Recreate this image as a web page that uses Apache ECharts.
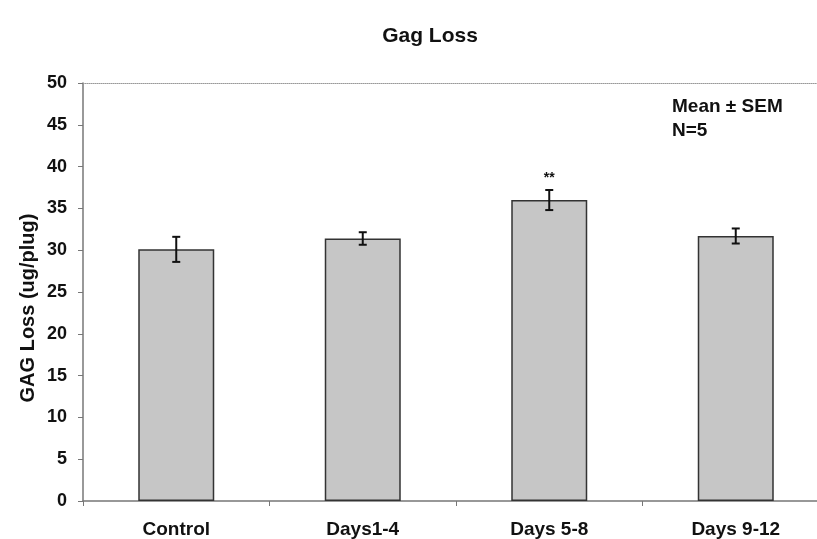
<!DOCTYPE html>
<html>
<head>
<meta charset="utf-8">
<script src="https://cdn.jsdelivr.net/npm/echarts@6/dist/echarts.min.js"></script>
<style>html,body{margin:0;padding:0;background:#fff}#c{width:817px;height:539px}</style>
</head>
<body>
<div id="c"></div>
<script>
const categories = ['Control', 'Days1-4', 'Days 5-8', 'Days 9-12'];
const meanValues = [30.1, 31.4, 36.0, 31.7];
const semValues = [1.5, 0.75, 1.2, 0.9];
const significance = ['', '', '**', ''];
const yTicks = [0, 5, 10, 15, 20, 25, 30, 35, 40, 45, 50];

const FONT = '"Liberation Sans", Arial, sans-serif';
const chart = echarts.init(document.getElementById('c'));

const errData = meanValues.map((v, i) => [i, v - semValues[i], v + semValues[i]]);

chart.setOption({
  animation: false,
  title: {
    text: 'Gag Loss', left: 425, top: 21, textAlign: 'center',
    textStyle: { fontFamily: FONT, fontSize: 21, fontWeight: 'bold', color: '#111' }
  },
  graphic: [
    { type: 'text', left: 672, top: 97, style: { text: 'Mean ± SEM', font: 'bold 19px ' + FONT, fill: '#111' } },
    { type: 'text', left: 672, top: 121, style: { text: 'N=5', font: 'bold 19px ' + FONT, fill: '#111' } },
    { type: 'text', x: 28, y: 308, rotation: Math.PI / 2,
      style: { text: 'GAG Loss (ug/plug)', font: 'bold 20px ' + FONT, fill: '#111', align: 'center', verticalAlign: 'middle' } }
  ],
  grid: { left: 83, width: 746, top: 83, bottom: 38, outerBoundsMode: 'none' },
  xAxis: [{
    type: 'category', data: categories, position: 'bottom',
    axisLine: { lineStyle: { color: '#777', width: 1.5 } },
    axisTick: { show: true, length: 5, lineStyle: { color: '#777' } },
    axisLabel: { fontFamily: FONT, fontSize: 19, fontWeight: 'bold', color: '#111', margin: 19 }
  }, {
    type: 'category', data: categories, position: 'top',
    axisLine: { lineStyle: { color: '#999', type: 'dotted', width: 1 } },
    axisTick: { show: false }, axisLabel: { show: false }
  }],
  yAxis: {
    type: 'value', min: 0, max: 50, interval: 5,
    axisLine: { show: true, lineStyle: { color: '#777', width: 1.5 } },
    axisTick: { show: true, length: 5, lineStyle: { color: '#777' } },
    splitLine: { show: false },
    axisLabel: { fontFamily: FONT, fontSize: 18, fontWeight: 'bold', color: '#111', margin: 16,
      formatter: v => yTicks.includes(v) ? String(v) : '' }
  },
  series: [{
    type: 'bar', data: meanValues, barWidth: 76,
    itemStyle: { color: '#c6c6c6', borderColor: '#333', borderWidth: 1.5 }
  }, {
    type: 'custom', data: errData, z: 5,
    renderItem: function (params, api) {
      const x = api.coord([api.value(0), 0])[0];
      const lo = api.coord([api.value(0), api.value(1)])[1];
      const hi = api.coord([api.value(0), api.value(2)])[1];
      const hw = 4;
      const st = { stroke: '#111', lineWidth: 2 };
      const children = [
        { type: 'line', shape: { x1: x, y1: lo, x2: x, y2: hi }, style: st },
        { type: 'line', shape: { x1: x - hw, y1: lo, x2: x + hw, y2: lo }, style: st },
        { type: 'line', shape: { x1: x - hw, y1: hi, x2: x + hw, y2: hi }, style: st }
      ];
      const sig = significance[params.dataIndex];
      if (sig) {
        children.push({ type: 'text', style: { text: sig, x: x, y: hi - 5, align: 'center', verticalAlign: 'bottom', font: 'bold 14px ' + FONT, fill: '#111' } });
      }
      return { type: 'group', children: children };
    }
  }]
});
</script>
</body>
</html>
